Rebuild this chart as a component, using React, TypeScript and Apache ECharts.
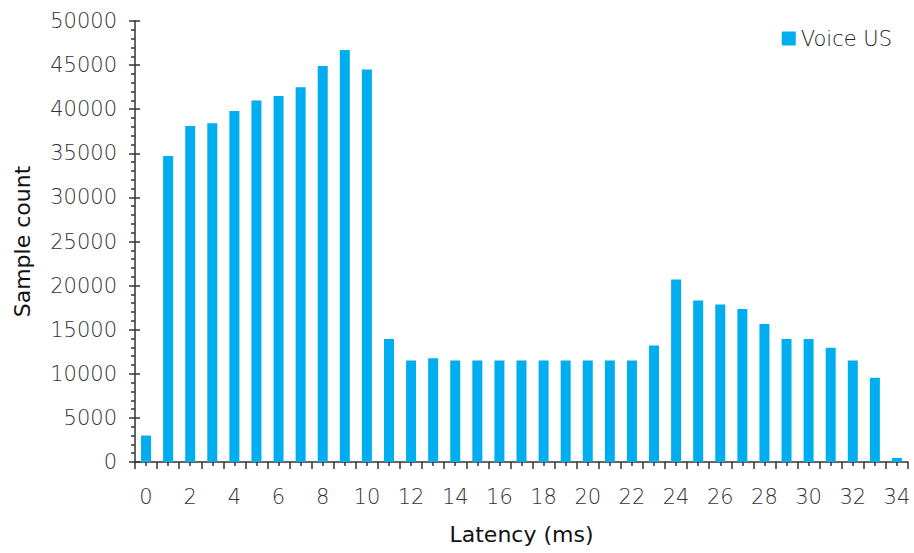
import React, { useEffect, useRef } from "react";
import * as echarts from "echarts";

const categories: string[] = Array.from({ length: 35 }, (_, i) => String(i));
const seriesName = "Voice US";
const values: number[] = [
  3000, 34700, 38100, 38400, 39800, 41000, 41500, 42500, 44900, 46700,
  44500, 13950, 11500, 11750, 11500, 11500, 11500, 11500, 11500, 11500,
  11500, 11500, 11500, 13200, 20700, 18300, 17850, 17350, 15650, 13950,
  13950, 12950, 11500, 9550, 450,
];
const xAxisTitle = "Latency (ms)";
const yAxisTitle = "Sample count";

const FONT = "DejaVu Sans";
const BAR = "#00AEEF";
const AXIS = "#333333";

export default function App() {
  const ref = useRef<HTMLDivElement>(null);
  useEffect(() => {
    document.body.style.margin = "0";
    if (!ref.current) return;
    const chart = echarts.init(ref.current, undefined, { renderer: "svg" });
    const yCommon = {
      type: "value" as const,
      min: 0,
      max: 50000,
      interval: 5000,
      splitLine: { show: false },
    };
    chart.setOption({
      animation: false,
      textStyle: { fontFamily: FONT },
      grid: { left: 135, right: 6, top: 21, bottom: 91 },
      legend: {
        right: 17,
        top: 23,
        itemWidth: 14,
        itemHeight: 14,
        itemGap: 6,
        icon: "rect",
        textStyle: { fontFamily: FONT, fontSize: 21, color: "#222", fontWeight: 300 },
        data: [seriesName],
      },
      xAxis: [
        {
          type: "category",
          data: categories,
          boundaryGap: true,
          axisLine: { lineStyle: { color: AXIS, width: 1.5 } },
          axisTick: { show: true, interval: 0, length: 7, lineStyle: { color: AXIS, width: 1.5 } },
          axisLabel: {
            interval: 1,
            margin: 24,
            fontFamily: FONT,
            fontSize: 21,
            fontWeight: 300,
            color: "#333",
          },
          name: xAxisTitle,
          nameLocation: "middle",
          nameGap: 61,
          nameTextStyle: { fontFamily: FONT, fontSize: 22, color: "#111" },
        },
        {
          type: "category",
          data: categories,
          position: "bottom",
          boundaryGap: true,
          axisLine: { show: false },
          axisTick: { show: true, interval: 0, alignWithLabel: true, length: 4, lineStyle: { color: AXIS, width: 1.5 } },
          axisLabel: { show: false },
        },
      ],
      yAxis: [
        {
          ...yCommon,
          axisLine: { show: true, lineStyle: { color: AXIS, width: 1.5 } },
          axisTick: { show: true, length: 6, lineStyle: { color: AXIS, width: 1.5 } },
          minorTick: { show: true, splitNumber: 5, length: 4, lineStyle: { color: AXIS, width: 1.5 } },
          axisLabel: {
            margin: 18,
            fontFamily: FONT,
            fontSize: 21,
            fontWeight: 300,
            color: "#333",
            formatter: (v: number) => String(v),
          },
          name: yAxisTitle,
          nameLocation: "middle",
          nameGap: 102,
          nameTextStyle: { fontFamily: FONT, fontSize: 22, color: "#111" },
        },
        {
          ...yCommon,
          position: "left",
          axisLine: { show: false },
          axisTick: { show: true, inside: true, length: 5, lineStyle: { color: AXIS, width: 1.5 } },
          axisLabel: { show: false },
        },
      ],
      series: [
        {
          name: seriesName,
          type: "bar",
          data: values,
          barWidth: 10,
          itemStyle: { color: BAR },
        },
      ],
    });
    return () => chart.dispose();
  }, []);
  return <div ref={ref} style={{ width: 914, height: 553 }} />;
}
